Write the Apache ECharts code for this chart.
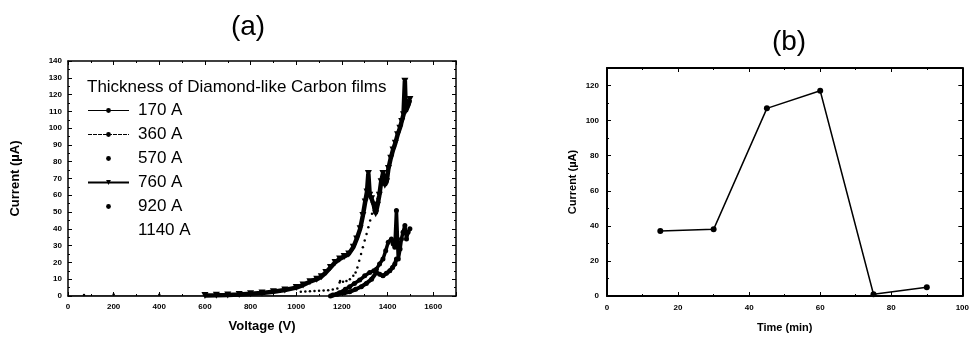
<!DOCTYPE html>
<html><head><meta charset="utf-8">
<script src="https://cdn.jsdelivr.net/npm/echarts@6/dist/echarts.min.js"></script>
<style>html,body{margin:0;padding:0;background:#fff}#c{width:972px;height:338px}</style>
</head><body><div id="c"></div>
<script>
// ---------- data: panel (a) ----------
const v760 = [600,650,700,750,800,850,900,950,1000,1030,1060,1090,1110,1130,1150,1170,1190,1210,1230,1250,1265,1280,1292,1302,1310,1316,1322,1330,1340,1348,1356,1364,1372,1380,1388,1396,1404,1414,1424,1434,1444,1454,1462,1470,1476,1480,1486,1492,1498];
const i760 = [0.3,0.4,0.6,0.9,1.3,1.8,2.5,3.6,5,6.5,8.5,10,11.5,14,17,20,22,23.5,25,29,34,40,48,56,62,73,60,58,54,49,54,60,68,73,66,68,76,82,87,91,96,100,104,108,128,110,112,114,117];
const v170 = [1150,1180,1210,1234,1260,1285,1307,1330,1351,1366,1380,1395,1410,1422,1432,1439];
const i170 = [0,1,1.8,2.5,4,5.5,7.5,10,14,13,12,13.5,15,17,19,22];
const v360 = [1160,1190,1215,1234,1255,1278,1300,1322,1340,1351,1365,1380,1392,1403,1417,1425,1432,1439,1447,1455,1461,1468,1476,1483,1490,1498];
const i360 = [0.6,2,4,5.5,7.5,9.5,12,14,15,16,19,22,27,32,34,31,29,51,22,28,34,38,42,34,38,40];
const v570 = [1190,1205,1220,1235,1250,1260,1268,1276,1284,1292,1300,1308,1316,1324,1332,1340,1348,1356,1364];
const i570 = [8,8.5,9,10,12,14,17,21,25,29,33,37,41,45,49,52,55,58,62];
const v920 = [70,200,400,1020,1040,1060,1080,1100,1120,1140,1160,1180,1192];
const i920 = [0.6,0.9,0.7,2.5,2.7,2.8,3,3.1,3.3,3.5,3.8,4.5,9];
const v1140 = [0,200,400,600,800,1000];
const i1140 = [0,0,0,0,0,0];
const seriesNamesA = ['170 A','360 A','570 A','760 A','920 A','1140 A'];
const legendHeader = 'Thickness of Diamond-like Carbon films';
// ---------- data: panel (b) ----------
const timeMin = [15,30,45,60,75,90];
const currentB = [37,38,107,117,1,5];

const zip = (a,b) => a.map((x,k)=>[x,b[k]]);
const BLK = '#000';
const tickFont = {fontFamily:'Arial', fontWeight:'bold', fontSize:8, color:BLK};

function axisPair(gi, opts){
  const base = {gridIndex:gi, min:opts.min, max:opts.max, interval:opts.interval,
    axisLine:{show:true,onZero:false,lineStyle:{color:BLK,width:opts.lw}},
    axisTick:{show:true,inside:true,length:4,lineStyle:{color:BLK,width:1}},
    minorTick:{show:true,splitNumber:2,length:2,lineStyle:{color:BLK,width:1}},
    splitLine:{show:false}};
  const main = Object.assign({}, base, {type:'value', position:opts.pos1,
    name:opts.name, nameLocation:'middle', nameGap:opts.nameGap,
    nameTextStyle:{fontFamily:'Arial', fontWeight:'bold', fontSize:opts.nameSize, color:BLK},
    axisLabel:Object.assign({show:true, margin:opts.margin, showMaxLabel:opts.showMax, formatter:v=>String(v)}, tickFont)});
  const mirror = Object.assign({}, base, {type:'value', position:opts.pos2, axisLabel:{show:false}});
  return [main, mirror];
}

const xA = axisPair(0,{min:0,max:1700,interval:200,pos1:'bottom',pos2:'top',name:'Voltage (V)',nameGap:24,nameSize:13,margin:7,showMax:false,lw:1.5});
const yA = axisPair(0,{min:0,max:140,interval:10,pos1:'left',pos2:'right',name:'Current (\u00b5A)',nameGap:46,nameSize:13,margin:6,showMax:true,lw:1.5});
const xB = axisPair(1,{min:0,max:100,interval:20,pos1:'bottom',pos2:'top',name:'Time (min)',nameGap:26,nameSize:11,margin:8,showMax:true,lw:2});
const yB = axisPair(1,{min:0,max:130,interval:20,pos1:'left',pos2:'right',name:'Current (\u00b5A)',nameGap:29,nameSize:11,margin:8,showMax:false,lw:2});

const series = [
  {name:seriesNamesA[0], type:'line', xAxisIndex:0, yAxisIndex:0, data:zip(v170,i170),
   symbol:'circle', symbolSize:5, lineStyle:{color:BLK,width:4}, itemStyle:{color:BLK}},
  {name:seriesNamesA[1], type:'line', xAxisIndex:0, yAxisIndex:0, data:zip(v360,i360),
   symbol:'circle', symbolSize:5, lineStyle:{color:BLK,width:3.5}, itemStyle:{color:BLK}},
  {name:seriesNamesA[2], type:'line', xAxisIndex:0, yAxisIndex:0, data:zip(v570,i570),
   symbol:'circle', symbolSize:2.5, lineStyle:{color:BLK,width:0,opacity:0}, itemStyle:{color:BLK}},
  {name:seriesNamesA[3], type:'line', xAxisIndex:0, yAxisIndex:0, data:zip(v760,i760),
   symbol:'triangle', symbolRotate:180, symbolSize:7, lineStyle:{color:BLK,width:4.5}, itemStyle:{color:BLK}},
  {name:seriesNamesA[4], type:'line', xAxisIndex:0, yAxisIndex:0, data:zip(v920,i920),
   symbol:'circle', symbolSize:2.5, lineStyle:{color:BLK,width:0,opacity:0}, itemStyle:{color:BLK}},
  {name:seriesNamesA[5], type:'line', xAxisIndex:0, yAxisIndex:0, data:zip(v1140,i1140),
   symbol:'none', lineStyle:{color:BLK,width:1}, itemStyle:{color:BLK}},
  {name:'b', type:'line', xAxisIndex:2, yAxisIndex:2, data:zip(timeMin,currentB),
   symbol:'circle', symbolSize:6, lineStyle:{color:BLK,width:1.5}, itemStyle:{color:BLK}}
];

const legendLine = {
  '170 A':{lineStyle:{width:1.2}}, '360 A':{lineStyle:{width:1.2,type:[4,1]}},
  '570 A':{}, '760 A':{lineStyle:{width:2}}, '920 A':{},
  '1140 A':{lineStyle:{opacity:0}, itemStyle:{opacity:0}}
};

const chart = echarts.init(document.getElementById('c'), null, {renderer:'canvas'});
chart.setOption({
  animation:false,
  backgroundColor:'#fff',
  grid:[{left:68,right:516,top:61,bottom:40},{left:607,right:9,top:68,bottom:34}],
  xAxis:[xA[0],xA[1],xB[0],xB[1]],
  yAxis:[yA[0],yA[1],yB[0],yB[1]],
  legend:{orient:'vertical', left:87, top:102, padding:0, itemWidth:41, itemHeight:6, itemGap:7,
    textStyle:{fontFamily:'Arial', fontSize:17, lineHeight:17, color:BLK, padding:[0,0,0,4]},
    inactiveColor:'#000',
    data:seriesNamesA.map(n => Object.assign({name:n}, legendLine[n]))},
  graphic:[
    {type:'text', left:87, top:79, style:{text:legendHeader, font:'17px Arial', fill:BLK}},
    {type:'text', x:248, y:27, style:{text:'(a)', font:'28px Arial', fill:BLK, textAlign:'center', textVerticalAlign:'middle'}},
    {type:'text', x:789, y:42, style:{text:'(b)', font:'28px Arial', fill:BLK, textAlign:'center', textVerticalAlign:'middle'}}
  ],
  series:series
});
</script></body></html>
